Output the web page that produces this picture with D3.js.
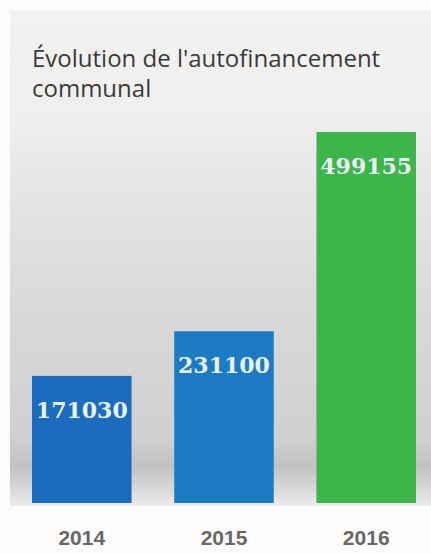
<!DOCTYPE html>
<html>
<head>
<meta charset="utf-8">
<script src="https://cdn.jsdelivr.net/npm/d3@7"></script>
<style>
  html, body { margin: 0; padding: 0; background: #fdfcfb; }
  svg { display: block; }
</style>
</head>
<body>
<svg id="chart"></svg>
<script>
// data
const years = ['2014', '2015', '2016'];
const values = [171030, 231100, 499155];
const barColors = ['#1b6cbd', '#1c7bc3', '#3cb54a'];
const titleLines = ["Évolution de l'autofinancement", 'communal'];

const W = 431, H = 554;
const svg = d3.select('#chart')
    .attr('width', W)
    .attr('height', H);

// background panel with the soft grey gradient
const defs = svg.append('defs');
const grad = defs.append('linearGradient')
    .attr('id', 'bg')
    .attr('x1', 0).attr('y1', 0).attr('x2', 0).attr('y2', 1);
[[0, '#f3f2f0'], [0.22, '#f0efee'], [0.3, '#e9e9e9'], [0.6, '#d9d9d9'],
 [0.86, '#d0d0d0'], [0.92, '#c2c2c2'], [0.97, '#dadada'], [1, '#ececec']]
  .forEach(s => grad.append('stop').attr('offset', s[0]).attr('stop-color', s[1]));

svg.append('rect')
    .attr('x', 10)
    .attr('y', 10)
    .attr('width', W - 10)
    .attr('height', 496)
    .attr('fill', 'url(#bg)');

// title
svg.append('g')
  .selectAll('text')
  .data(titleLines)
  .join('text')
    .attr('x', 32)
    .attr('y', (d, i) => 67 + i * 30)
    .attr('fill', '#3a3a3a')
    .style('font-family', 'Open Sans')
    .style('font-size', '24px')
    .text(d => d);

// scales
const x = d3.scaleBand()
    .domain(years)
    .range([32, 416])
    .paddingInner(0.3)
    .paddingOuter(0);

const y = d3.scaleLinear()
    .domain([0, d3.max(values)])
    .range([503, 132]);

// bars
const bars = svg.append('g')
  .selectAll('g')
  .data(years)
  .join('g');

bars.append('rect')
    .attr('x', d => x(d))
    .attr('y', (d, i) => y(values[i]))
    .attr('width', x.bandwidth())
    .attr('height', (d, i) => y(0) - y(values[i]))
    .attr('fill', (d, i) => barColors[i]);

bars.append('text')
    .attr('x', d => x(d) + x.bandwidth() / 2)
    .attr('y', (d, i) => y(values[i]) + 42)
    .attr('text-anchor', 'middle')
    .attr('fill', '#eaf1f4')
    .style('font-family', 'DejaVu Serif')
    .style('font-weight', 'bold')
    .style('font-size', '22px')
    .text((d, i) => values[i]);

// year labels
const axis = svg.append('g')
    .attr('transform', `translate(0,${y(0)})`)
    .call(d3.axisBottom(x).tickSize(0).tickPadding(27));
axis.select('.domain').remove();
axis.selectAll('text')
    .attr('fill', '#686868')
    .style('font-family', 'Liberation Sans')
    .style('font-weight', 'bold')
    .style('font-size', '21px');
</script>
</body>
</html>
